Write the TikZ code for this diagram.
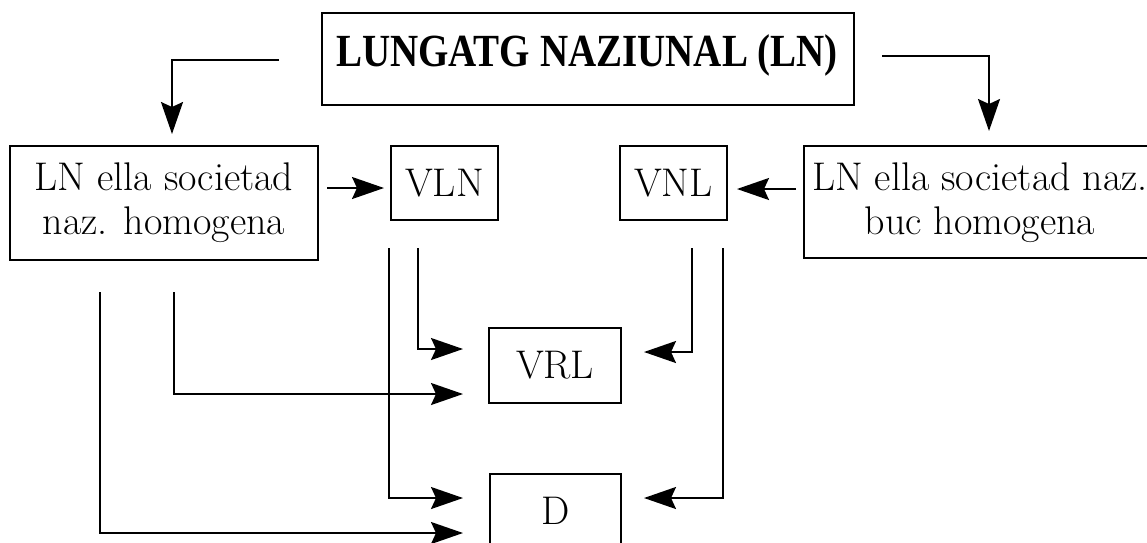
\documentclass[tikz,border=0pt]{standalone}
\usepackage{fontspec}
\newfontfamily\topfont{Liberation Serif}
\usetikzlibrary{arrows.meta}
\begin{document}
\begin{tikzpicture}[x=1pt,y=-1pt,
  txt/.style={font=\fontsize{40}{44}\selectfont},
  box/.style={draw, line width=2pt, inner sep=0pt, align=center, txt},
  arr/.style={line width=2pt, -{Stealth[length=32pt,width=22pt,inset=5pt]}}]
\useasboundingbox (0,0) rectangle (1147,542);
\node[box, minimum width=532pt, minimum height=92pt] (top) at (588,59) {};
\node[inner sep=0pt] (toptext) at (587,55)
  {\topfont\bfseries\fontsize{39}{43}\selectfont\scalebox{1}[1.18]{LUNGATG NAZIUNAL (LN)}};
\node[box, minimum width=308pt, minimum height=114pt] (L) at (164,203)
  {LN ella societad\\naz. homogena};
\node[box, minimum width=107pt, minimum height=74pt] (VLN) at (444.5,183) {VLN};
\node[box, minimum width=107pt, minimum height=74pt] (VNL) at (673.5,183) {VNL};
\node[box, minimum width=356pt, minimum height=112pt] (R) at (982,202) {};
\node[txt, align=center, inner sep=0pt] (Rt) at (980,203)
  {LN ella societad naz.\\buc homogena};
\node[box, minimum width=132pt, minimum height=75pt] (VRL) at (555,365.5) {VRL};
\node[box, minimum width=131pt, minimum height=74pt] (D) at (555.5,511) {D};
% top arrows
\draw[arr] ([xshift=-42pt,yshift=-1pt]top.west) -| ([xshift=8pt,yshift=11pt]L.north);
\draw[arr] ([xshift=27pt,yshift=3pt]top.east) -| ([xshift=7pt,yshift=14pt]R.north);
% side arrows
\draw[arr] ([xshift=8pt,yshift=-5pt]L.east |- VLN.west) -- ([xshift=-6pt,yshift=-5pt]VLN.west);
\draw[arr] ([xshift=-7pt,yshift=-6pt]R.west |- VNL.east) -- ([xshift=9pt,yshift=-6pt]VNL.east);
% to VRL
\draw[arr] ([xshift=-26.5pt,yshift=-27pt]VLN.south) |- ([xshift=-25pt,yshift=16.5pt]VRL.west);
\draw[arr] ([xshift=10pt,yshift=-31pt]L.south) |- ([xshift=-25pt,yshift=-28.5pt]VRL.west);
\draw[arr] ([xshift=18.5pt,yshift=-27pt]VNL.south) |- ([xshift=22pt,yshift=13.5pt]VRL.east);
% to D
\draw[arr] ([xshift=-55.5pt,yshift=-27pt]VLN.south) |- ([xshift=-26pt,yshift=13pt]D.west);
\draw[arr] ([xshift=49.5pt,yshift=-27pt]VNL.south) |- ([xshift=22pt,yshift=13pt]D.east);
\draw[arr] ([xshift=-64pt,yshift=-31pt]L.south) |- ([xshift=-26pt,yshift=-22pt]D.west);
\end{tikzpicture}
\end{document}
